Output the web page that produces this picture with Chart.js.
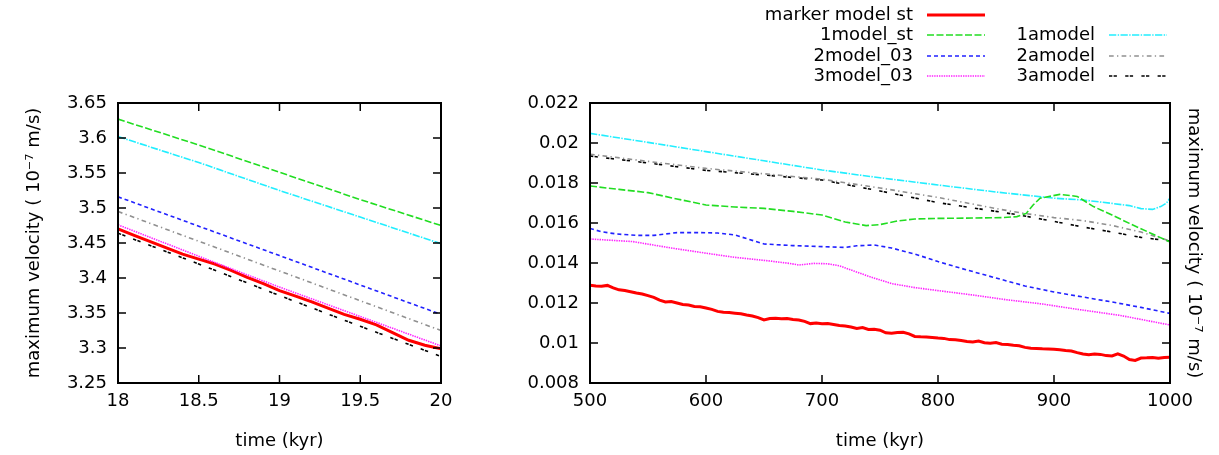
<!DOCTYPE html>
<html>
<head>
<meta charset="utf-8">
<script src="https://cdn.jsdelivr.net/npm/chart.js"></script>
<style>
  html, body { margin: 0; padding: 0; background: #fff; }
  #wrap { position: relative; width: 1219px; height: 455px; }
  #leftChart { position: absolute; left: 0; top: 0; }
  #rightChart { position: absolute; left: 500px; top: 0; }
</style>
</head>
<body>
<div id="wrap">
  <canvas id="leftChart" width="480" height="455"></canvas>
  <canvas id="rightChart" width="719" height="455"></canvas>
</div>
<script>
// ---- data: left panel (18 - 20 kyr) ----
const leftTime = [18, 18.5, 19, 19.5, 20];
const leftRedTime = [18, 18.1, 18.2, 18.3, 18.4, 18.5, 18.6, 18.7, 18.8, 18.9, 19, 19.1, 19.2, 19.3, 19.4, 19.5, 19.6, 19.7, 19.8, 19.9, 20];
const leftMarker = [3.470, 3.461, 3.452, 3.443, 3.434, 3.427, 3.420, 3.411, 3.401, 3.392, 3.382, 3.374, 3.366, 3.357, 3.348, 3.341, 3.333, 3.322, 3.311, 3.304, 3.299];
const left1model = [3.627, 3.590, 3.551, 3.512, 3.475];
const left2model = [3.516, 3.474, 3.432, 3.390, 3.348];
const left3model = [3.476, 3.431, 3.387, 3.345, 3.303];
const left1amodel = [3.602, 3.565, 3.525, 3.487, 3.449];
const left2amodel = [3.495, 3.4525, 3.410, 3.3675, 3.325];
const left3amodel = [3.464, 3.420, 3.375, 3.331, 3.288];

// ---- data: right panel (500 - 1000 kyr) ----
const rightRedTime = [500, 505, 510, 515, 520, 525, 530, 535, 540, 545, 550, 555, 560, 565, 570, 575, 580, 585, 590, 595,
  600, 605, 610, 615, 620, 625, 630, 635, 640, 645, 650, 655, 660, 665, 670, 675, 680, 685, 690, 695,
  700, 705, 710, 715, 720, 725, 730, 735, 740, 745, 750, 755, 760, 765, 770, 775, 780, 785, 790, 795,
  800, 805, 810, 815, 820, 825, 830, 835, 840, 845, 850, 855, 860, 865, 870, 875, 880, 885, 890, 895,
  900, 905, 910, 915, 920, 925, 930, 935, 940, 945, 950, 955, 960, 965, 970, 975, 980, 985, 990, 995, 1000];
const rightMarker = [0.01289, 0.01285, 0.01284, 0.01288, 0.01276, 0.01266, 0.01262, 0.01256, 0.0125, 0.01245, 0.01237, 0.01228, 0.01214, 0.01205, 0.01207, 0.012, 0.01193, 0.0119, 0.01183, 0.01181,
  0.01175, 0.01168, 0.01158, 0.01154, 0.01152, 0.01149, 0.01146, 0.0114, 0.01135, 0.01127, 0.01115, 0.01122, 0.01124, 0.01121, 0.01122, 0.01118, 0.01115, 0.01108, 0.01097, 0.011,
  0.01096, 0.01097, 0.01093, 0.01088, 0.01085, 0.0108, 0.01073, 0.01077, 0.01068, 0.01069, 0.01064, 0.01051, 0.01049, 0.01052, 0.01054, 0.01046, 0.01033, 0.01031, 0.0103, 0.01028,
  0.01025, 0.01023, 0.01017, 0.01016, 0.01012, 0.01008, 0.01005, 0.0101, 0.01001, 0.00999, 0.01002, 0.00994, 0.00993, 0.00989, 0.00986, 0.00978, 0.00974, 0.00973, 0.00971, 0.0097,
  0.00969, 0.00966, 0.00962, 0.0096, 0.00952, 0.00945, 0.00941, 0.00945, 0.00943, 0.00937, 0.00935, 0.00946, 0.00935, 0.00917, 0.00913, 0.00925, 0.00926, 0.00928, 0.00924, 0.00928, 0.00929];

const right1modelTime = [500, 525, 550, 575, 600, 625, 650, 675, 700, 720, 738, 750, 765, 780, 800, 830, 855, 868, 876, 882, 888, 905, 920, 934, 950, 965, 980, 1000];
const right1model = [0.01785, 0.01768, 0.01752, 0.0172, 0.0169, 0.0168, 0.01673, 0.01658, 0.0164, 0.01605, 0.01587, 0.01592, 0.0161, 0.0162, 0.01623, 0.01625, 0.01627, 0.01632, 0.01648, 0.0169, 0.01724, 0.01743, 0.01733, 0.01682, 0.0164, 0.01598, 0.01558, 0.01505];

const right2modelTime = [500, 510, 523, 540, 555, 575, 595, 610, 625, 650, 675, 700, 720, 730, 745, 760, 780, 800, 825, 850, 875, 900, 925, 950, 975, 1000];
const right2model = [0.01573, 0.01556, 0.01545, 0.01538, 0.01538, 0.01552, 0.01552, 0.0155, 0.0154, 0.01495, 0.01487, 0.01482, 0.01478, 0.01486, 0.0149, 0.01475, 0.01445, 0.01407, 0.01365, 0.01325, 0.01285, 0.01255, 0.0123, 0.01205, 0.01178, 0.01148];

const right3modelTime = [500, 537, 570, 600, 625, 652, 672, 680, 693, 705, 715, 725, 741, 760, 780, 800, 830, 858, 890, 917, 957, 1000];
const right3model = [0.0152, 0.01507, 0.01475, 0.01449, 0.01428, 0.01412, 0.01398, 0.0139, 0.01398, 0.01396, 0.01386, 0.01365, 0.01332, 0.01297, 0.01277, 0.01262, 0.0124, 0.01217, 0.01195, 0.01171, 0.01138, 0.0109];

const right1amodelTime = [500, 550, 600, 650, 700, 750, 800, 850, 900, 925, 950, 965, 975, 985, 992, 997, 1000];
const right1amodel = [0.02048, 0.02003, 0.01957, 0.01911, 0.01865, 0.01826, 0.0179, 0.01755, 0.01724, 0.01715, 0.01698, 0.01687, 0.01672, 0.01668, 0.01682, 0.017, 0.01725];

const rightAmodelTime = [500, 550, 600, 650, 700, 750, 800, 850, 870, 900, 925, 950, 975, 1000];
const right2amodel = [0.01944, 0.01908, 0.01873, 0.01846, 0.01819, 0.01775, 0.01728, 0.01672, 0.01652, 0.01627, 0.01612, 0.01588, 0.01555, 0.0151];
const right3amodel = [0.01935, 0.019, 0.01863, 0.0184, 0.01815, 0.0176, 0.01702, 0.01658, 0.0164, 0.01608, 0.0158, 0.01555, 0.01528, 0.0151];

// ---- labels and styles ----
const seriesNames = ['marker model st', '1model_st', '2model_03', '3model_03', '1amodel', '2amodel', '3amodel'];
const seriesStyle = [
  { color: '#ff0000', width: 3, dash: [] },
  { color: '#22dd22', width: 1.6, dash: [7, 2.5] },
  { color: '#2222ff', width: 1.6, dash: [4, 3] },
  { color: '#ff22ff', width: 1.6, dash: [1.4, 1] },
  { color: '#22eeff', width: 1.6, dash: [7.3, 1.4, 1.4, 1.4] },
  { color: '#909090', width: 1.6, dash: [4.7, 3.3, 1.3, 3.3] },
  { color: '#000000', width: 1.6, dash: [3.3, 1.3, 3.3, 8.3] }
];
const yTitle = 'maximum velocity ( 10\u207B\u2077 m/s)';
const xTitle = 'time (kyr)';

Chart.defaults.font.family = '"DejaVu Sans", sans-serif';
Chart.defaults.font.size = 18;
Chart.defaults.color = '#000';

function pts(xs, ys) {
  return xs.map((x, i) => ({ x: x, y: ys[i] }));
}

function makeDatasets(list) {
  return list.map((s, i) => ({
    label: seriesNames[i],
    data: pts(s[0], s[1]),
    borderColor: seriesStyle[i].color,
    borderWidth: seriesStyle[i].width,
    borderDash: seriesStyle[i].dash,
    pointRadius: 0,
    tension: 0,
    fill: false,
    order: i === 0 ? 1 : 0
  }));
}

function numLabel(v) {
  return String(Number(v.toFixed(6)));
}

// frame with inward ticks on all four sides (gnuplot style)
const framePlugin = {
  id: 'frame',
  afterDraw(chart) {
    const { ctx, chartArea: a, scales } = chart;
    const len = 8;
    ctx.save();
    ctx.strokeStyle = '#000';
    ctx.lineWidth = 1.5;
    ctx.beginPath();
    scales.x.ticks.forEach(t => {
      const px = scales.x.getPixelForValue(t.value);
      ctx.moveTo(px, a.bottom); ctx.lineTo(px, a.bottom - len);
      ctx.moveTo(px, a.top); ctx.lineTo(px, a.top + len);
    });
    scales.y.ticks.forEach(t => {
      const py = scales.y.getPixelForValue(t.value);
      ctx.moveTo(a.left, py); ctx.lineTo(a.left + len, py);
      ctx.moveTo(a.right, py); ctx.lineTo(a.right - len, py);
    });
    ctx.stroke();
    ctx.lineWidth = 2;
    ctx.strokeRect(a.left, a.top, a.right - a.left, a.bottom - a.top);
    ctx.restore();
  }
};

// two-column key above the right panel
const keyPlugin = {
  id: 'key',
  afterDraw(chart) {
    const ctx = chart.ctx;
    const rowsY = [15, 35, 56, 76];
    const cols = [
      { textRight: 413, lineFrom: 427, lineTo: 485, items: [0, 1, 2, 3], rows: [0, 1, 2, 3] },
      { textRight: 595, lineFrom: 609, lineTo: 667, items: [4, 5, 6], rows: [1, 2, 3] }
    ];
    ctx.save();
    ctx.font = '18px "DejaVu Sans", sans-serif';
    ctx.textAlign = 'right';
    ctx.textBaseline = 'middle';
    cols.forEach(c => {
      c.items.forEach((idx, k) => {
        const y = rowsY[c.rows[k]];
        const st = seriesStyle[idx];
        ctx.setLineDash([]);
        ctx.fillStyle = '#000';
        ctx.fillText(seriesNames[idx], c.textRight, y + 0.5);
        ctx.strokeStyle = st.color;
        ctx.lineWidth = st.width;
        ctx.setLineDash(st.dash);
        ctx.beginPath();
        ctx.moveTo(c.lineFrom, y);
        ctx.lineTo(c.lineTo, y);
        ctx.stroke();
      });
    });
    ctx.restore();
  }
};

// ---- left chart ----
new Chart(document.getElementById('leftChart'), {
  type: 'line',
  data: {
    datasets: makeDatasets([
      [leftRedTime, leftMarker],
      [leftTime, left1model],
      [leftTime, left2model],
      [leftTime, left3model],
      [leftTime, left1amodel],
      [leftTime, left2amodel],
      [leftTime, left3amodel]
    ])
  },
  options: {
    responsive: false,
    animation: false,
    layout: { padding: { top: 103, right: 39, left: 0, bottom: 0 } },
    plugins: { legend: { display: false }, tooltip: { enabled: false } },
    scales: {
      x: {
        type: 'linear', min: 18, max: 20,
        ticks: { stepSize: 0.5, padding: 8, maxRotation: 0, callback: numLabel },
        grid: { display: false, drawTicks: false },
        border: { display: false },
        title: { display: true, text: xTitle, padding: { top: 0, bottom: 2.5 } },
        afterFit(s) { s.height = 72; }
      },
      y: {
        type: 'linear', min: 3.25, max: 3.65,
        ticks: { stepSize: 0.05, padding: 11, callback: numLabel },
        grid: { display: false, drawTicks: false },
        border: { display: false },
        title: { display: true, text: yTitle, padding: { top: 24, bottom: 0 } },
        afterFit(s) { s.width = 118; }
      }
    }
  },
  plugins: [framePlugin]
});

// ---- right chart ----
new Chart(document.getElementById('rightChart'), {
  type: 'line',
  data: {
    datasets: makeDatasets([
      [rightRedTime, rightMarker],
      [right1modelTime, right1model],
      [right2modelTime, right2model],
      [right3modelTime, right3model],
      [right1amodelTime, right1amodel],
      [rightAmodelTime, right2amodel],
      [rightAmodelTime, right3amodel]
    ])
  },
  options: {
    responsive: false,
    animation: false,
    layout: { padding: { top: 103, right: 0, left: 0, bottom: 0 } },
    plugins: { legend: { display: false }, tooltip: { enabled: false } },
    scales: {
      x: {
        type: 'linear', min: 500, max: 1000,
        ticks: { stepSize: 100, padding: 8, maxRotation: 0, callback: numLabel },
        grid: { display: false, drawTicks: false },
        border: { display: false },
        title: { display: true, text: xTitle, padding: { top: 0, bottom: 2.5 } },
        afterFit(s) { s.height = 72; }
      },
      y: {
        type: 'linear', min: 0.008, max: 0.022,
        ticks: { stepSize: 0.002, padding: 11, callback: numLabel },
        grid: { display: false, drawTicks: false },
        border: { display: false },
        afterFit(s) { s.width = 90; }
      },
      y2: {
        type: 'linear', position: 'right', min: 0.008, max: 0.022,
        ticks: { display: false },
        grid: { display: false, drawTicks: false },
        border: { display: false },
        title: { display: true, text: yTitle, padding: { top: 15, bottom: 0 } },
        afterFit(s) { s.width = 49; }
      }
    }
  },
  plugins: [framePlugin, keyPlugin]
});
</script>
</body>
</html>
